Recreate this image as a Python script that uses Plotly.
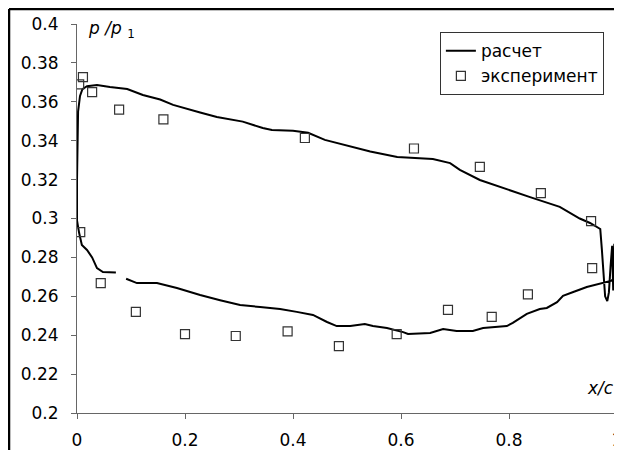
import plotly.graph_objects as go

# calculated pressure distribution (one polyline around the profile)
calc_x = [0.072, 0.048, 0.037, 0.028, 0.0185, 0.009, 0.004, 0.0,
          0.0, 0.001, 0.002, 0.0056, 0.01, 0.0185, 0.037, 0.061, 0.093, 0.122, 0.154, 0.178, 0.209,
          0.228, 0.259, 0.307, 0.344, 0.361, 0.4, 0.428, 0.459, 0.511, 0.543, 0.593, 0.635,
          0.659, 0.691, 0.709, 0.746, 0.783, 0.839, 0.894, 0.931, 0.95, 0.969,
          0.972, 0.975, 0.978, 0.982, 0.985, 0.988, 0.991, 0.993, 0.995, 0.997, 0.999, 1.0, 0.996,
          0.99, 0.97, 0.944, 0.919, 0.9, 0.889, 0.87, 0.857, 0.833, 0.807, 0.796, 0.752, 0.733,
          0.703, 0.678, 0.654, 0.613, 0.604, 0.574, 0.548, 0.533, 0.506, 0.481, 0.463, 0.437,
          0.407, 0.376, 0.339, 0.302, 0.265, 0.228, 0.185, 0.148, 0.111, 0.091]
calc_y = [0.2722, 0.2725, 0.2745, 0.280, 0.2838, 0.2864, 0.2925, 0.299,
          0.32, 0.345, 0.355, 0.363, 0.3665, 0.368, 0.3686, 0.3676, 0.3666, 0.3635, 0.3612, 0.3584, 0.3558,
          0.3545, 0.3522, 0.3498, 0.3465, 0.3455, 0.3451, 0.3441, 0.3404, 0.3368, 0.3344, 0.3316, 0.3311,
          0.3306, 0.3285, 0.325, 0.3198, 0.3162, 0.311, 0.306, 0.300, 0.2977, 0.2946,
          0.284, 0.27, 0.26, 0.2575, 0.262, 0.275, 0.286, 0.263, 0.287, 0.265, 0.283, 0.27, 0.2705,
          0.268, 0.2665, 0.2648, 0.2622, 0.2602, 0.257, 0.254, 0.2535, 0.251, 0.2463, 0.2447, 0.2437, 0.2422,
          0.2422, 0.2432, 0.2411, 0.2406, 0.2416, 0.2437, 0.2447, 0.2458, 0.2447, 0.2447, 0.2468, 0.2504,
          0.252, 0.2535, 0.2545, 0.2555, 0.258, 0.2607, 0.2643, 0.2668, 0.2668, 0.269]

# experiment
exp_x = [0.004, 0.011, 0.028, 0.078, 0.16, 0.422, 0.624, 0.746, 0.859, 0.952,
         0.954, 0.835, 0.687, 0.768, 0.006, 0.044, 0.109, 0.2, 0.294, 0.39, 0.485, 0.592]
exp_y = [0.369, 0.3727, 0.365, 0.356, 0.351, 0.3414, 0.336, 0.3265, 0.313, 0.2987,
         0.2745, 0.261, 0.253, 0.2494, 0.293, 0.2668, 0.252, 0.2406, 0.2396, 0.242, 0.2344, 0.2406]

y_ticks = [0.2, 0.22, 0.24, 0.26, 0.28, 0.3, 0.32, 0.34, 0.36, 0.38, 0.4]
y_labels = ["0.2", "0.22", "0.24", "0.26", "0.28", "0.3", "0.32", "0.34", "0.36", "0.38", "0.4"]
x_ticks = [0, 0.2, 0.4, 0.6, 0.8, 1]
x_labels = ["0", "0.2", "0.4", "0.6", "0.8", "1"]

FONT = "DejaVu Sans"

fig = go.Figure()
fig.add_trace(go.Scatter(x=calc_x, y=calc_y, mode="lines", name="расчет",
                         line=dict(color="black", width=2)))
fig.add_trace(go.Scatter(x=exp_x, y=exp_y, mode="markers", name="эксперимент",
                         marker=dict(symbol="square-open", size=9, color="#333",
                                     line=dict(width=1.2, color="#333"))))

axis_common = dict(showline=True, linecolor="#666", linewidth=1, ticks="outside",
                   ticklen=5, tickcolor="#666", showgrid=False, zeroline=False,
                   automargin=False,
                   tickfont=dict(family=FONT, size=17, color="black"))

fig.update_xaxes(range=[0, 1], tickvals=x_ticks, ticktext=x_labels,
                 ticklabelstandoff=7, ticklabeloverflow="allow", **axis_common)
fig.update_yaxes(range=[0.2, 0.4], tickvals=y_ticks, ticktext=y_labels,
                 ticklabelstandoff=9, **axis_common)

# page body has an 8px margin, so the figure is 8px smaller and margins shifted
fig.update_layout(
    width=614, height=442,
    margin=dict(l=69, r=5, t=16, b=37, autoexpand=False),
    plot_bgcolor="white", paper_bgcolor="white",
    font=dict(family=FONT, size=16, color="black"),
    legend=dict(x=0.672, y=0.979, xanchor="left", yanchor="top",
                bordercolor="#333", borderwidth=1, bgcolor="white",
                font=dict(family=FONT, size=17)),
    shapes=[
        dict(type="line", xref="paper", yref="paper", x0=-0.1259, x1=-0.1259,
             y0=-0.2, y1=1.0386, line=dict(color="black", width=2.5)),
        dict(type="line", xref="paper", yref="paper", x0=-0.1259, x1=1.2,
             y0=1.0386, y1=1.0386, line=dict(color="black", width=2.5)),
    ],
    annotations=[
        dict(text="<i>p /p</i> <sub>1</sub>", xref="paper", yref="paper", x=0.017, y=0.985,
             xanchor="left", yanchor="middle", showarrow=False,
             font=dict(family=FONT, size=17, color="black")),
        dict(text="<i>x/c</i>", xref="paper", yref="paper", x=0.998, y=0.064,
             xanchor="right", yanchor="middle", showarrow=False,
             font=dict(family=FONT, size=17, color="black")),
    ],
)

fig.write_html("out.html")
